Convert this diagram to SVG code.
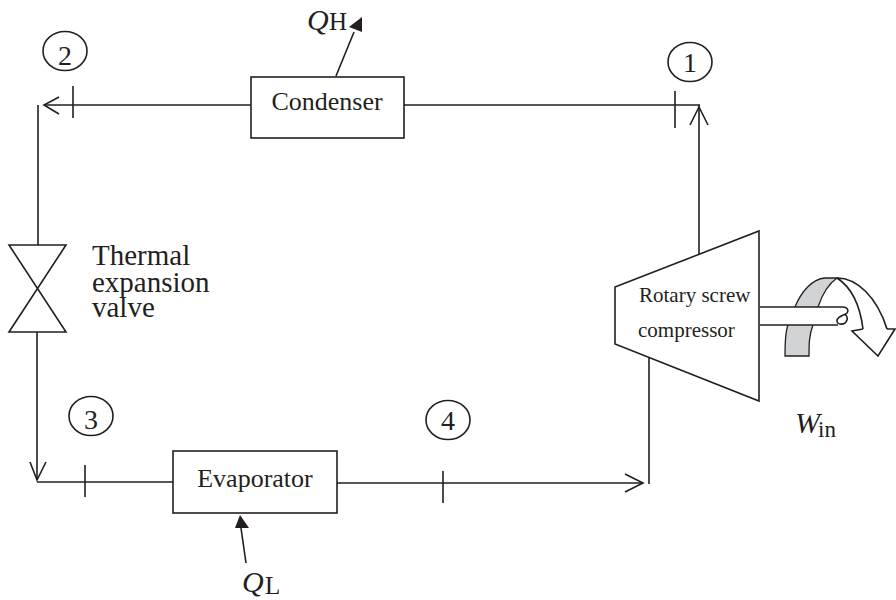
<svg xmlns="http://www.w3.org/2000/svg" width="896" height="600" viewBox="0 0 896 600">
<style>
text{font-family:"Liberation Serif","Times New Roman",serif;fill:#231f20}
.l{fill:none;stroke:#231f20;stroke-width:1.6}
.b{fill:#fff;stroke:#231f20;stroke-width:1.6}
.n{font-size:28px;text-anchor:middle}
.i{font-size:30px;font-style:italic}
.u{font-size:25px;font-style:normal}
.s{font-size:21px}
.t{font-size:26px}
.v{font-size:29px}
</style>
<rect width="896" height="600" fill="#fff"/>
<g id="connectors">
<path class="l" d="M404 105H700M251 105H44"/>
<path class="l" d="M73 86V118M675 91V128"/>
<path class="l" d="M59 97L44 105L59 114"/>
<path class="l" d="M38 105V245M37 332V480"/>
<path class="l" d="M30 462L37 480L46 462"/>
<path class="l" d="M37 482H173M337 483H643"/>
<path class="l" d="M85 465V497M443 471V503"/>
<path class="l" d="M625 474L643 483L625 492"/>
<path class="l" d="M649 484V355M699 254V105"/>
<path class="l" d="M690 125L699 107L708 125"/>
<path class="l" d="M336 76L354 32"/>
<path fill="#231f20" d="M362 17L349 27L362 32Z"/>
<path class="l" d="M246 563L241 528"/>
<path fill="#231f20" d="M240 515L235 528L249 528Z"/>
</g>
<g id="condenser"><rect class="b" x="251" y="77" width="153" height="61"/><text class="t" x="327" y="110" text-anchor="middle">Condenser</text></g>
<g id="evaporator"><rect class="b" x="173" y="451" width="164" height="62"/><text class="t" x="255" y="487" text-anchor="middle">Evaporator</text></g>
<g id="valve"><path class="l" d="M9 245H66L9 332H66Z"/><text class="v" x="92" y="265">Thermal<tspan x="92" y="292">expansion</tspan><tspan x="92" y="317">valve</tspan></text></g>
<g id="compressor">
<path class="b" d="M615 287L759 231V401L615 344Z"/>
<text class="s" x="639" y="302">Rotary screw</text><text class="s" x="638" y="337">compressor</text>
</g>
<g id="shaft">
<path d="M785 356C785 340 786 330 788 325L795 307C801 292 812 279 825 278L837 278C827 285 821 298 818 307L813 325C809 335 809 345 809 356Z" fill="#d1d3d4" stroke="#231f20" stroke-width="1.3"/>
<path class="l" d="M837 278C857 278 877 297 887 329M837 278C851 287 860 305 863 329"/>
<path class="l" stroke-linejoin="miter" d="M863 329L852 331L878 356L895 329L887 329"/>
<path fill="#fff" d="M760 307H845L847 325H760Z"/>
<path class="l" d="M760 307H843C847 307 849 310 847 313C845 315 838 316 837 320C836 325 845 326 847 320C848 317 846 315 845 314M760 325H838"/>
</g>
<g id="labels">
<text class="i" x="307" y="30">Q<tspan class="u" x="329">H</tspan></text>
<text class="i" x="242" y="592">Q<tspan class="u" x="265" dy="2">L</tspan></text>
<text class="i" x="795" y="433">W<tspan font-size="23" font-style="normal" x="818" dy="4">in</tspan></text>
</g>
<g id="state2"><ellipse class="l" cx="65" cy="51" rx="22" ry="19.5"/><text class="n" x="65" y="65">2</text></g>
<g id="state1"><ellipse class="l" cx="690" cy="62" rx="22" ry="19.5"/><text class="n" x="690" y="72">1</text></g>
<g id="state3"><ellipse class="l" cx="91" cy="416" rx="22" ry="19.5"/><text class="n" x="91" y="429">3</text></g>
<g id="state4"><ellipse class="l" cx="448" cy="420" rx="22" ry="19.5"/><text class="n" x="448" y="430">4</text></g>
</svg>
